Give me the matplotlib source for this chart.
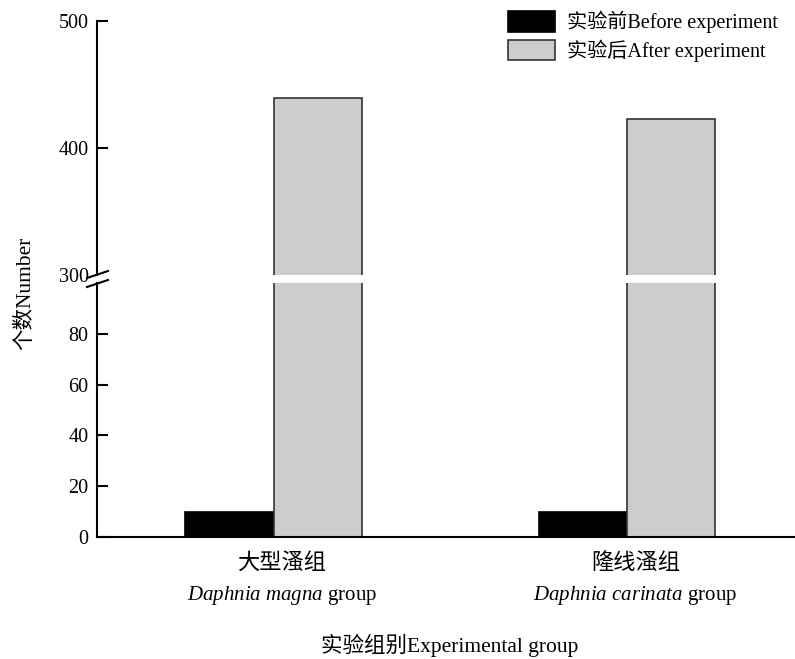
import matplotlib
matplotlib.use("Agg")
import matplotlib.pyplot as plt
from matplotlib.lines import Line2D
import numpy as np

plt.rcParams['font.family'] = ['Liberation Serif', 'Noto Sans CJK SC']
plt.rcParams['mathtext.fontset'] = 'custom'
plt.rcParams['mathtext.rm'] = 'Liberation Serif'
plt.rcParams['mathtext.it'] = 'Liberation Serif:italic'

# data
groups_cn = ['大型溞组', '隆线溞组']
groups_sp = [r'$\mathit{Daphnia\ magna}$ group', r'$\mathit{Daphnia\ carinata}$ group']
before = [10, 10]
after = [439, 423]
series_labels = ['实验前Before experiment', '实验后After experiment']

W, H = 795, 659
fig = plt.figure(figsize=(W / 100, H / 100), dpi=100)

left = 97 / W
width = (W - 97) / W
ax_lo = fig.add_axes([left, 1 - 537 / H, width, (537 - 283) / H])
ax_hi = fig.add_axes([left, 1 - 275 / H, width, (275 - 21) / H])

x = np.arange(len(groups_cn))
bw = 0.25
gray = '#cdcdcd'
bars = []
for ax in (ax_lo, ax_hi):
    b1 = ax.bar(x - bw / 2, before, bw, color='black', edgecolor='black', lw=1.2)
    b2 = ax.bar(x + bw / 2, after, bw, color=gray, edgecolor='#333333', lw=1.2)
    bars = [b1, b2]
    ax.set_xlim(-0.5, 1.475)
    ax.spines['right'].set_visible(False)
    ax.spines['top'].set_visible(False)
    ax.spines['left'].set_linewidth(1.5)
    ax.spines['bottom'].set_linewidth(1.5)
    ax.tick_params(axis='y', direction='in', length=8, width=1.5,
                   labelsize=14.5, pad=6)
    ax.set_facecolor('none')

ax_lo.set_ylim(0, 100)
ax_lo.set_yticks([0, 20, 40, 60, 80])
ax_hi.set_ylim(300, 500)
ax_hi.set_yticks([300, 400, 500])
ax_hi.yaxis.get_major_ticks()[0].tick1line.set_visible(False)
ax_hi.spines['bottom'].set_visible(False)
ax_hi.set_xticks([])

# two-line category labels
ax_lo.set_xticks([])
for xi, cn, sp in zip(x, groups_cn, groups_sp):
    ax_lo.annotate(cn, xy=(xi, 0), xycoords=('data', 'axes fraction'),
                   xytext=(6, -19), textcoords='offset points',
                   ha='center', va='center', fontsize=16)
    ax_lo.annotate(sp, xy=(xi, 0), xycoords=('data', 'axes fraction'),
                   xytext=(6, -42), textcoords='offset points',
                   ha='center', va='center', fontsize=15)

# break marks on the y axis
for yy in (274.5, 283.5):
    fy = 1 - yy / H
    fig.add_artist(Line2D([87 / W, 108 / W], [fy - 3.5 / H, fy + 3.5 / H],
                          color='black', lw=1.5))

fig.text(25 / W, 1 - 293 / H, '个数Number', rotation=90, ha='center',
         va='center', fontsize=15.5)
fig.text(450 / W, 1 - 645 / H, '实验组别Experimental group', ha='center',
         va='center', fontsize=15.5)

fig.legend(bars, series_labels, loc='upper left',
           bbox_to_anchor=(508 / W, 1 - 11 / H), frameon=False, fontsize=14.5,
           handlelength=2.35, handleheight=1.2, handletextpad=0.6,
           labelspacing=0.3, borderpad=0, borderaxespad=0)

fig.savefig('out.png', dpi=100)
